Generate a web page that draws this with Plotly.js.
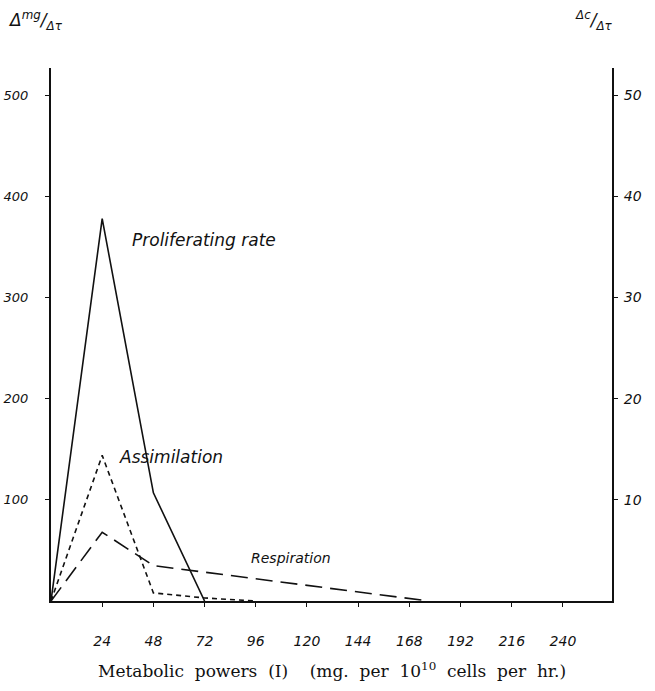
<!DOCTYPE html>
<html>
<head>
<meta charset="utf-8">
<script src="https://cdn.plot.ly/plotly-3.0.1.min.js"></script>
<style>html,body{margin:0;padding:0;background:#fff;}#chart{width:655px;height:691px;}</style>
</head>
<body>
<div id="chart"></div>
<script>
// Data (left axis Δmg/Δτ; right axis Δc/Δτ = left/10)
const xTicks = [24, 48, 72, 96, 120, 144, 168, 192, 216, 240];
const xTickText = ["24", "48", "72", "96", "120", "144", "168", "192", "216", "240"];
const leftTicks = [100, 200, 300, 400, 500];
const rightTicks = [10, 20, 30, 40, 50];

const prolifX = [0, 24, 48, 72];
const prolifY = [0, 378, 107, 0];

const assimX = [0, 24, 48, 72, 96];
const assimY = [0, 144, 8, 3, 0];

const respX = [0, 24, 48, 177];
const respY = [0, 68, 35, 0];

const hand = "DejaVu Sans";
const ink = "#111";

const traces = [
  {x: prolifX, y: prolifY, mode: "lines", line: {color: ink, width: 1.6}, hoverinfo: "skip"},
  {x: assimX, y: assimY, mode: "lines", line: {color: ink, width: 1.6, dash: "5px,4px"}, hoverinfo: "skip"},
  {x: respX, y: respY, mode: "lines", line: {color: ink, width: 1.6, dash: "17px,8px"}, hoverinfo: "skip"},
  {x: [0], y: [0], yaxis: "y2", mode: "markers", marker: {opacity: 0}, hoverinfo: "skip"}
];

const tickFont = {family: hand, size: 13, color: ink, style: "italic"};
const xTickFont = {family: hand, size: 14, color: ink, style: "italic"};

const layout = {
  width: 655, height: 691,
  margin: {l: 51, r: 43, t: 68, b: 90},
  paper_bgcolor: "#fff", plot_bgcolor: "#fff",
  showlegend: false,
  xaxis: {
    range: [0, 263], showgrid: false, zeroline: false,
    showline: true, linecolor: ink, linewidth: 2,
    tickmode: "array", tickvals: xTicks, ticktext: xTickText,
    ticks: "outside", ticklen: 4, tickcolor: ink, tickwidth: 1,
    ticklabelstandoff: 22,
    tickfont: xTickFont
  },
  yaxis: {
    range: [0, 527], showgrid: false, zeroline: false,
    showline: true, linecolor: ink, linewidth: 2,
    tickmode: "array", tickvals: leftTicks,
    ticks: "outside", ticklen: 4, tickcolor: ink, tickwidth: 1,
    ticklabelstandoff: 14,
    tickfont: tickFont
  },
  yaxis2: {
    overlaying: "y", side: "right",
    range: [0, 52.7], showgrid: false, zeroline: false,
    showline: true, linecolor: ink, linewidth: 2,
    tickmode: "array", tickvals: rightTicks,
    ticks: "outside", ticklen: 4, tickcolor: ink, tickwidth: 1,
    ticklabelstandoff: 3,
    tickfont: xTickFont
  },
  annotations: [
    {xref: "x", yref: "y", x: 37, y: 357, xanchor: "left", yanchor: "middle", showarrow: false,
     text: "Proliferating rate", font: {family: hand, size: 17, color: ink, style: "italic"}},
    {xref: "x", yref: "y", x: 31, y: 142, xanchor: "left", yanchor: "middle", showarrow: false,
     text: "Assimilation", font: {family: hand, size: 17, color: ink, style: "italic"}},
    {xref: "x", yref: "y", x: 93, y: 43, xanchor: "left", yanchor: "middle", showarrow: false,
     text: "Respiration", font: {family: hand, size: 14, color: ink, style: "italic"}},
    {xref: "x", yref: "paper", x: -11.2, y: -0.069, xanchor: "center", yanchor: "middle", showarrow: false,
     text: "0", font: xTickFont},
    {xref: "paper", yref: "paper", x: 0.5, y: -0.1295, xanchor: "center", yanchor: "middle", showarrow: false,
     text: "Metabolic&nbsp; powers&nbsp; (I)&nbsp;&nbsp;&nbsp; (mg.&nbsp; per&nbsp; 10<sup>10</sup>&nbsp; cells&nbsp; per&nbsp; hr.)",
     font: {family: "DejaVu Serif", size: 17, color: ink}},
    {xref: "paper", yref: "paper", x: -0.08, y: 1.09, xanchor: "left", yanchor: "middle", showarrow: false,
     text: "Δ<sup>mg</sup>/<sub>Δτ</sub>", font: {family: hand, size: 17, color: ink, style: "italic"}},
    {xref: "paper", yref: "paper", x: 0.93, y: 1.09, xanchor: "left", yanchor: "middle", showarrow: false,
     text: "<sup>Δc</sup>/<sub>Δτ</sub>", font: {family: hand, size: 17, color: ink, style: "italic"}}
  ]
};

Plotly.newPlot("chart", traces, layout, {staticPlot: true, displayModeBar: false});
</script>
</body>
</html>
